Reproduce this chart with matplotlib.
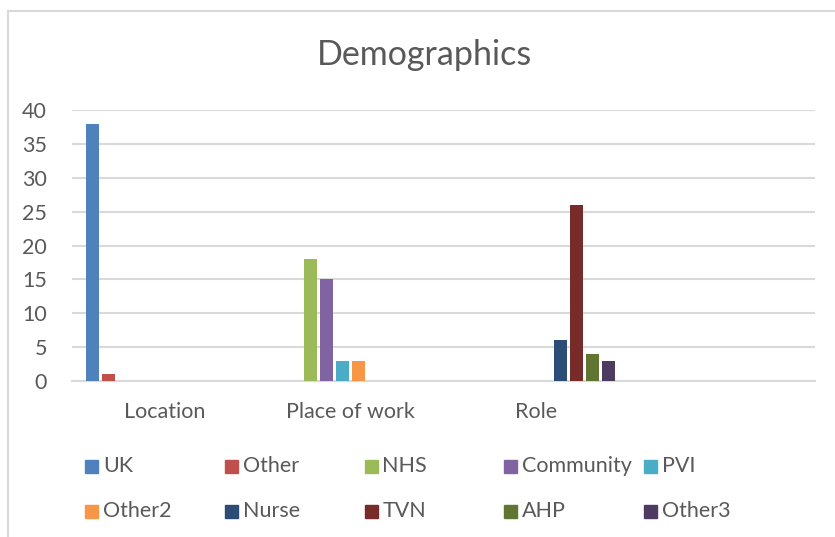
import matplotlib.pyplot as plt
from matplotlib.lines import Line2D
from matplotlib.patches import Rectangle
import numpy as np

plt.rcParams['font.family'] = ['Lato', 'DejaVu Sans']

# Chart data
categories = ["Location", "Place of work", "Role", ""]
series = ["UK", "Other", "NHS", "Community", "PVI",
          "Other2", "Nurse", "TVN", "AHP", "Other3"]
# value of each series in each category (Location, Place of work, Role, blank)
values = [
    [38, 0, 0, 0],   # UK
    [1, 0, 0, 0],    # Other
    [0, 18, 0, 0],   # NHS
    [0, 15, 0, 0],   # Community
    [0, 3, 0, 0],    # PVI
    [0, 3, 0, 0],    # Other2
    [0, 0, 6, 0],    # Nurse
    [0, 0, 26, 0],   # TVN
    [0, 0, 4, 0],    # AHP
    [0, 0, 3, 0],    # Other3
]
colors = ["#4F81BD", "#C0504D", "#9BBB59", "#8064A2", "#4BACC6",
          "#F79646", "#2C4D75", "#772C2A", "#5F7530", "#4D3B62"]

text_color = "#595959"
grid_color = "#D9D9D9"

W, H = 835, 537
fig = plt.figure(figsize=(W / 100, H / 100), dpi=100)
ax = fig.add_axes([72 / W, 1 - 381 / H, (815 - 72) / W, (381 - 110) / H])

# Clustered columns
x = np.arange(len(categories)) + 0.5
slot = 16 / 185.75
width = 13 / 185.75
n = len(series)
for i, (name, vals, c) in enumerate(zip(series, values, colors)):
    ax.bar(x + (i - (n - 1) / 2) * slot, vals, width=width, color=c,
           label=name, zorder=3)

ax.set_xlim(0, len(categories))
ax.set_ylim(0, 40)
ax.set_yticks(range(0, 41, 5))
ax.set_xticks(x)
ax.set_xticklabels(categories)
ax.yaxis.grid(True, color=grid_color, linewidth=1.5, zorder=0)
for s in ["top", "right", "left"]:
    ax.spines[s].set_visible(False)
ax.spines["bottom"].set_color(grid_color)
ax.spines["bottom"].set_linewidth(1.5)
ax.spines["bottom"].set_zorder(1)
ax.tick_params(axis="both", length=0, labelsize=15.5, labelcolor=text_color)
ax.tick_params(axis="y", pad=18)
ax.tick_params(axis="x", pad=15)

fig.text(425 / W, 1 - 55 / H, "Demographics", ha="center", va="center",
         fontsize=24.5, color=text_color)

# Legend laid out on a fixed grid, 5 columns x 2 rows
for i, (name, c) in enumerate(zip(series, colors)):
    col, row = i % 5, i // 5
    lx = 85 + col * 139.75
    ly = 466 + row * 45
    fig.add_artist(Rectangle((lx / W, 1 - (ly + 6.5) / H), 13 / W, 13 / H,
                             transform=fig.transFigure, color=c))
    fig.text((lx + 18) / W, 1 - ly / H, name, ha="left", va="center",
             fontsize=15.5, color=text_color)

# Chart frame (cropped on the right and bottom)
fig.add_artist(Line2D([8 / W, 8 / W], [0, 1 - 11 / H], color=grid_color,
                      linewidth=1.5, transform=fig.transFigure))
fig.add_artist(Line2D([8 / W, 1], [1 - 11 / H, 1 - 11 / H], color=grid_color,
                      linewidth=1.5, transform=fig.transFigure))

fig.savefig("out.png", dpi=100)
